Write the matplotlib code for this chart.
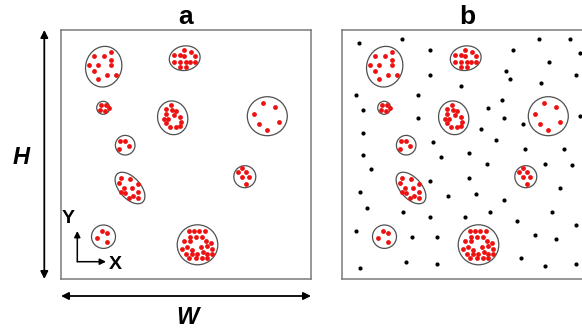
import matplotlib
matplotlib.use("Agg")
import matplotlib.pyplot as plt
from matplotlib.patches import Ellipse

plt.rcParams["font.family"] = ["Liberation Sans", "DejaVu Sans"]

# cluster outlines, panel units (origin top-left of box, 250 x 249)
cl_x = [42.7, 123.7, 42.2, 111.7, 206.3, 64.2, 183.8, 69.0, 42.5, 136.5]
cl_y = [36.7, 28.2, 77.8, 87.8, 86.2, 115.2, 146.7, 158.0, 206.7, 214.8]
cl_w = [36, 31, 13, 30, 40, 19.6, 22, 38, 24, 40.6]
cl_h = [41, 24.5, 13, 34, 39, 19.6, 22, 21, 23.4, 40]
cl_ang = [15, -10, 0, -15, 0, 0, 0, 48, 0, 0]

# red points inside each cluster
dots_A = [(32.7, 25.7), (42.7, 25.7), (50.3, 21.7), (50.3, 30.3), (28.3, 35), (36.7, 35.3),
          (50.3, 35.3), (33.3, 41.3), (46.3, 45.3), (54.7, 45.3), (36.7, 49)]
dots_B = [(113.3, 25.3), (119, 25.3), (123.3, 20), (123.3, 26), (113.3, 31.7), (119, 31.7),
          (119, 37.3), (125, 37.3), (129, 32), (134, 32), (134, 26), (130, 22), (125, 31.5)]
dots_C = [(40, 75), (45, 75.5), (47.5, 78.5), (39, 80.5), (43.5, 81)]
dots_D = [(110, 75.3), (105, 79.3), (110.7, 80), (115, 81), (104.7, 84.3), (113.3, 85),
          (119, 86.7), (103, 89), (107.3, 89), (120, 92.3), (109, 97.3), (115, 97.3),
          (119, 96), (104.7, 93.3)]
dots_E = [(202.3, 72.7), (214, 76.7), (192.7, 84.3), (218, 92), (198.3, 93.7), (206.3, 99.7)]
dots_F = [(58.7, 111), (64, 111), (68, 115.7), (58, 119.3)]
dots_G = [(181, 138.3), (177.3, 142.3), (185, 142.3), (181, 146.7), (188.3, 146.7), (185, 154.3)]
dots_H = [(60.3, 148.3), (69.3, 149), (58.3, 153.3), (63.3, 157.7), (70.7, 158.3), (77.3, 154.3),
          (60, 161.7), (67.7, 167.7), (72.3, 165.7), (77.3, 162.3), (77.3, 168.3), (63.7, 163.3)]
dots_I = [(40.7, 201), (45.7, 203.3), (36, 208.3), (46, 212.3)]
dots_J = [(128, 201), (133, 201), (138, 201), (144, 201), (128.7, 206.7), (134.7, 206.7),
          (141.3, 206.7), (123, 211), (128.7, 211), (144.7, 211), (150.3, 213.3), (120.7, 219),
          (126.3, 216.7), (131.3, 220), (140.3, 216.7), (146.3, 215.7), (151.3, 219),
          (124.7, 224.3), (130.7, 224.3), (136.3, 224.3), (142, 222.3), (146.3, 224.3),
          (151.3, 224.3), (128, 228.3), (134.7, 228.3), (140.7, 228.3), (146.3, 228.3)]
cluster_dots = [dots_A, dots_B, dots_C, dots_D, dots_E, dots_F, dots_G, dots_H, dots_I, dots_J]

# background points (panel b only)
bg_x = [17.3, 59.7, 87.7, 197, 228, 171.3, 238, 206.7, 87.7, 163.7, 167.7, 198.7, 234, 118.7,
        13.7, 76, 159.7, 21.3, 146, 76, 161.7, 181.3, 238, 138.7, 21.3, 154, 91.3, 183.3,
        222.3, 21.3, 99.3, 127, 202.7, 229.7, 144.7, 29, 87.7, 126.7, 17.7, 105.7, 134.3,
        161.7, 218, 25.3, 60.7, 87.7, 122.7, 148, 175.3, 210.3, 233.7, 14, 69.7, 95.3, 193,
        214.3, 179, 203, 233.7, 64.3, 95.3, 17.7, 241.5]
bg_y = [13.3, 9.3, 20, 9.3, 9.3, 20, 23.3, 31.7, 45.3, 41, 49.3, 52.7, 45.3, 56, 65, 65, 70.3,
        80, 78, 87.7, 88.3, 94, 86, 99.3, 103.3, 110, 111.7, 119, 119, 125, 126.7, 122.7,
        134.5, 135, 134.5, 138.7, 150.7, 148.3, 162.3, 166, 164, 170, 158.3, 177.7, 181.7,
        187, 187, 181.7, 191, 181.7, 195, 201, 207, 207, 205, 209, 228.3, 236, 234, 232.3,
        234, 238.3, 148.3]

PX_W, PX_H = 582, 335
BOX_W, BOX_H = 250, 249
BOX_TOP = 30
fig = plt.figure(figsize=(PX_W / 100, PX_H / 100), dpi=100)

# overlay in pixel units for the dimension arrows
ov = fig.add_axes([0, 0, 1, 1])
ov.set_xlim(0, PX_W); ov.set_ylim(PX_H, 0); ov.axis("off")


def panel(left, title, background):
    ax = fig.add_axes([left / PX_W, (PX_H - BOX_TOP - BOX_H) / PX_H, BOX_W / PX_W, BOX_H / PX_H])
    ax.set_xlim(0, BOX_W); ax.set_ylim(BOX_H, 0)
    ax.set_xticks([]); ax.set_yticks([])
    for s in ax.spines.values():
        s.set_color("#7a7a7a"); s.set_linewidth(1.1)
    ax.set_title(title, fontsize=19, fontweight="bold", pad=4)
    if background:
        ax.scatter(bg_x, bg_y, s=9, color="black", zorder=3, linewidths=0)
    for x, y, w, h, a, pts in zip(cl_x, cl_y, cl_w, cl_h, cl_ang, cluster_dots):
        ax.add_patch(Ellipse((x, y), w, h, angle=a, fill=False, ec="#505050", lw=0.9, zorder=2))
        ax.scatter([p[0] for p in pts], [p[1] for p in pts], s=12, color="#ee1111",
                   zorder=4, linewidths=0)
    return ax


ax_a = panel(61, "a", False)
ax_b = panel(342, "b", True)

# local X / Y direction marker
arr = dict(arrowstyle="-|>", color="black", lw=1.1, mutation_scale=9, shrinkA=0, shrinkB=0)
ax_a.annotate("", xy=(16.3, 201), xytext=(16.3, 231.7), arrowprops=arr)
ax_a.annotate("", xy=(45, 231.7), xytext=(16.3, 231.7), arrowprops=arr)
ax_a.text(7.5, 188.5, "Y", fontsize=14, fontweight="bold", ha="center", va="center")
ax_a.text(54.5, 234.5, "X", fontsize=14, fontweight="bold", ha="center", va="center")

# H and W dimension arrows
dim = dict(arrowstyle="<|-|>", color="black", lw=1.3, mutation_scale=11, shrinkA=0, shrinkB=0)
ov.annotate("", xy=(44.3, 30), xytext=(44.3, 279), arrowprops=dim)
ov.annotate("", xy=(61, 296), xytext=(311, 296), arrowprops=dim)
ov.text(21.5, 157, "H", fontsize=17, fontweight="bold", style="italic", ha="center", va="center")
ov.text(187, 318, "W", fontsize=17, fontweight="bold", style="italic", ha="center", va="center")

fig.savefig("out.png", dpi=100)
